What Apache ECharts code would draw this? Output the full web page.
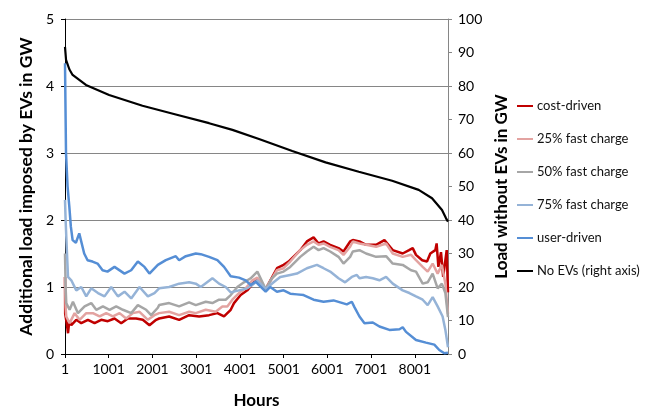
<!DOCTYPE html>
<html>
<head>
<meta charset="utf-8">
<script src="https://cdn.jsdelivr.net/npm/echarts@6/dist/echarts.min.js"></script>
<style>
html,body{margin:0;padding:0;background:#fff;}
#c{width:649px;height:408px;}
</style>
</head>
<body>
<div id="c"></div>
<script>
// ---- data (hour of year, value) ----
const costHours = [1,5,40,70,100,145,259,373,525,677,830,980,1133,1287,1438,1628,1780,1933,2085,2154,2383,2611,2840,3068,3296,3486,3638,3791,3866,4018,4170,4322,4391,4590,4848,5000,5114,5381,5533,5686,5800,5914,6065,6256,6370,6522,6583,6735,6886,7116,7306,7496,7724,7870,7953,8028,8170,8280,8356,8470,8500,8540,8600,8650,8700,8730,8760];
const costValues = [1.15,0.60,0.46,0.31,0.50,0.43,0.51,0.46,0.51,0.46,0.51,0.49,0.53,0.46,0.53,0.53,0.51,0.43,0.51,0.53,0.56,0.51,0.58,0.56,0.58,0.61,0.56,0.66,0.76,0.88,0.95,1.07,1.10,0.97,1.28,1.33,1.38,1.55,1.68,1.74,1.65,1.68,1.63,1.58,1.53,1.68,1.70,1.68,1.63,1.63,1.70,1.55,1.50,1.55,1.58,1.48,1.40,1.38,1.50,1.55,1.65,1.30,1.52,1.15,1.40,1.55,0.92];

const fast25Hours = [1,15,30,106,221,335,487,639,792,944,1096,1249,1400,1553,1705,1896,2047,2154,2383,2611,2840,2992,3220,3448,3600,3714,3828,3980,4133,4285,4400,4590,4848,5000,5152,5381,5533,5686,5800,5914,6065,6256,6370,6522,6583,6735,6886,7116,7344,7496,7724,7915,8028,8181,8295,8409,8523,8620,8700,8760];
const fast25Values = [1.15,0.70,0.56,0.46,0.61,0.51,0.61,0.61,0.56,0.61,0.56,0.61,0.53,0.61,0.63,0.51,0.58,0.61,0.63,0.58,0.63,0.61,0.66,0.63,0.71,0.71,0.81,0.91,0.98,1.10,1.14,0.97,1.25,1.28,1.38,1.55,1.63,1.68,1.63,1.65,1.60,1.55,1.48,1.60,1.68,1.65,1.63,1.60,1.65,1.50,1.45,1.48,1.40,1.30,1.23,1.35,1.20,1.33,1.05,0.60];

const fast50Hours = [1,15,30,106,183,297,449,601,716,868,1020,1172,1325,1515,1667,1857,1971,2124,2154,2383,2611,2840,2992,3220,3372,3524,3676,3791,3942,4094,4247,4400,4590,4733,4848,5000,5152,5381,5533,5686,5800,5914,6065,6256,6370,6522,6583,6735,6886,7116,7344,7496,7724,7915,8028,8181,8295,8409,8523,8620,8700,8760];
const fast50Values = [1.50,1.00,0.76,0.66,0.78,0.61,0.71,0.76,0.66,0.71,0.66,0.71,0.66,0.61,0.73,0.66,0.58,0.69,0.73,0.76,0.71,0.77,0.73,0.78,0.76,0.81,0.81,0.88,1.00,1.07,1.13,1.23,0.97,1.13,1.20,1.23,1.30,1.45,1.53,1.60,1.55,1.58,1.53,1.45,1.35,1.45,1.53,1.55,1.50,1.45,1.46,1.35,1.33,1.25,1.23,1.05,1.07,1.20,0.98,1.05,0.91,0.55];

const fast75Hours = [1,15,40,70,145,259,373,487,601,755,905,1058,1211,1362,1515,1705,1896,2047,2154,2383,2611,2840,2992,3106,3372,3524,3676,3791,3980,4170,4322,4400,4590,4772,4924,5152,5305,5533,5762,5914,6065,6256,6407,6560,6675,6735,6886,7040,7192,7344,7496,7724,7877,8028,8181,8295,8409,8523,8637,8700,8760];
const fast75Values = [2.30,2.00,1.60,1.15,1.10,0.95,1.00,0.86,0.98,0.91,0.86,1.00,0.86,0.93,0.83,1.00,0.86,0.91,0.98,1.00,1.05,1.07,1.05,1.00,1.13,1.05,1.00,0.92,0.95,0.98,1.05,1.10,0.97,1.07,1.15,1.18,1.20,1.28,1.33,1.28,1.23,1.13,1.07,1.15,1.18,1.13,1.15,1.13,1.10,1.15,1.05,0.95,0.91,0.86,0.81,0.73,0.85,0.71,0.56,0.36,0.10];

const userHours = [1,24,60,100,135,175,250,327,440,517,630,745,860,972,1133,1361,1514,1667,1818,1932,2124,2306,2535,2611,2764,2992,3106,3296,3486,3638,3790,3980,4133,4247,4361,4450,4590,4695,4848,5000,5152,5305,5457,5686,5914,6142,6294,6446,6560,6620,6735,6850,7040,7192,7420,7650,7724,7800,8028,8256,8447,8561,8676,8760];
const userValues = [4.34,3.00,2.50,2.20,1.90,1.70,1.66,1.80,1.50,1.40,1.38,1.35,1.25,1.23,1.30,1.20,1.25,1.38,1.30,1.20,1.33,1.40,1.46,1.40,1.46,1.50,1.49,1.45,1.40,1.30,1.16,1.14,1.10,1.03,1.08,1.02,0.93,1.00,0.93,0.95,0.90,0.89,0.88,0.81,0.78,0.80,0.77,0.74,0.78,0.70,0.56,0.46,0.47,0.41,0.36,0.37,0.40,0.33,0.21,0.17,0.14,0.06,0.01,0.02];

const noEvHours = [1,25,100,175,480,1010,1773,2535,3296,3830,4437,5198,5960,6720,7482,8090,8395,8623,8715,8760];
const noEvValues = [91.7,87.8,85.0,83.3,80.3,77.3,74.1,71.5,68.9,66.9,64.2,60.6,57.2,54.4,51.7,49.0,46.5,43.0,40.5,39.5];

const xTickLabels = ['1','1001','2001','3001','4001','5001','6001','7001','8001'];
const leftTicks = [0,1,2,3,4,5];
const rightTicks = [0,10,20,30,40,50,60,70,80,90,100];

const seriesNames = ['cost-driven','25% fast charge','50% fast charge','75% fast charge','user-driven','No EVs (right axis)'];
const seriesColors = ['#C00000','#E3A3A1','#A6A6A6','#95B3D7','#558ED5','#000000'];

function pairs(hs, vs){ return hs.map((h,i)=>[h-1, vs[i]]); }

const font = 'Lato, "Open Sans", sans-serif';
const dataSets = [
  pairs(costHours,costValues),
  pairs(fast25Hours,fast25Values),
  pairs(fast50Hours,fast50Values),
  pairs(fast75Hours,fast75Values),
  pairs(userHours,userValues),
  pairs(noEvHours,noEvValues)
];

const chart = echarts.init(document.getElementById('c'), null, {renderer:'canvas'});
chart.setOption({
  animation:false,
  backgroundColor:'#fff',
  textStyle:{fontFamily:font},
  grid:{left:65,right:201,top:19,bottom:54,containLabel:false,outerBoundsMode:'none'},
  legend:{
    orient:'vertical', left:512, top:94,
    icon:'rect', itemWidth:16, itemHeight:2, itemGap:19,
    data:seriesNames,
    textStyle:{fontFamily:font,fontSize:13,color:'#111',lineHeight:14, padding:[0,0,0,-1]},
  },
  xAxis:{
    type:'value', min:0, max:8759, interval:1000,
    name:'Hours', nameLocation:'middle', nameGap:38,
    nameTextStyle:{fontFamily:font,fontSize:17,fontWeight:'bold',color:'#000'},
    axisLine:{show:true,lineStyle:{color:'#000',width:1}},
    axisTick:{show:true,length:4,lineStyle:{color:'#000'}},
    axisLabel:{fontFamily:font,fontSize:14,color:'#000',margin:8,showMaxLabel:false,
      formatter:function(v){ const i=Math.round(v/1000); return (v%1000===0 && xTickLabels[i])?xTickLabels[i]:''; }},
    splitLine:{show:false}
  },
  yAxis:[{
    type:'value', min:leftTicks[0], max:leftTicks[leftTicks.length-1], interval:1, position:'left',
    name:'Additional load imposed by EVs in GW', nameLocation:'middle', nameGap:29, nameRotate:90,
    nameTextStyle:{fontFamily:font,fontSize:17.5,fontWeight:'bold',color:'#000'},
    axisLine:{show:true,lineStyle:{color:'#000',width:1}},
    axisTick:{show:true,length:4,lineStyle:{color:'#000'}},
    axisLabel:{fontFamily:font,fontSize:14,color:'#000',margin:11},
    splitLine:{show:true,lineStyle:{color:'#868686',width:1}}
  },{
    type:'value', min:rightTicks[0], max:rightTicks[rightTicks.length-1], interval:10, position:'right',
    name:'Load without EVs in GW', nameLocation:'middle', nameGap:39, nameRotate:90,
    nameTextStyle:{fontFamily:font,fontSize:17,fontWeight:'bold',color:'#000'},
    axisLine:{show:true,lineStyle:{color:'#868686',width:1}},
    axisTick:{show:true,length:4,lineStyle:{color:'#868686'}},
    axisLabel:{fontFamily:font,fontSize:14,color:'#000',margin:10},
    splitLine:{show:false}
  }],
  series: seriesNames.map((n,i)=>({
    name:n, type:'line', yAxisIndex: i===5?1:0,
    data:dataSets[i], showSymbol:false, symbol:'none',
    lineStyle:{color:seriesColors[i], width: i===5?2.2:2.5},
    itemStyle:{color:seriesColors[i]},
    z: 2+i
  }))
});
</script>
</body>
</html>
